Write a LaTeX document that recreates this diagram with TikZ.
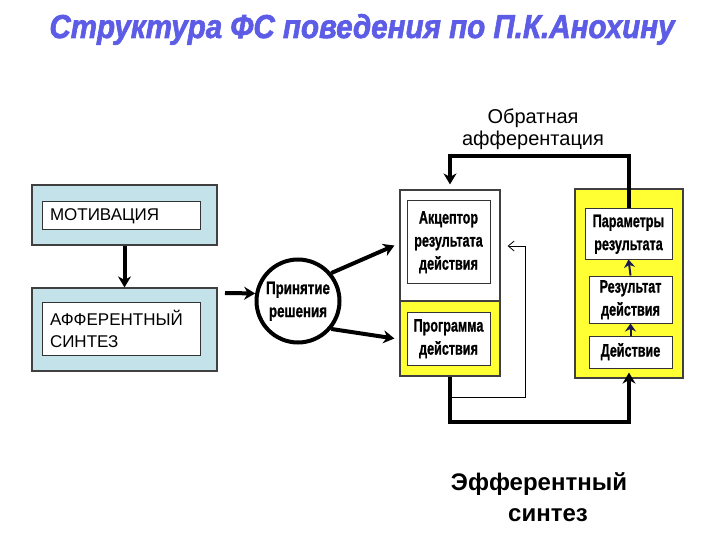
\documentclass[tikz,border=0pt]{standalone}
\usepackage{fontspec}
\setmainfont{Liberation Sans}
\newfontfamily\heavyfont[FakeBold=1.2]{Liberation Sans Bold}
\newfontfamily\titlefont[FakeBold=2]{Liberation Sans Bold Italic}
\usepackage{graphicx}
\usetikzlibrary{arrows.meta}
\definecolor{titleblue}{HTML}{5C5CE6}
\definecolor{paleblue}{HTML}{C4E2EA}
\definecolor{panelyellow}{HTML}{FFFF33}
\definecolor{tipnavy}{HTML}{1A1A50}
\newcommand\narrowtext[1]{\scalebox{0.7}[1]{\begin{tabular}{@{}c@{}}#1\end{tabular}}}
\newcommand\widertext[1]{\scalebox{0.74}[1]{\begin{tabular}{@{}c@{}}#1\end{tabular}}}
\begin{document}
\begin{tikzpicture}[x=1pt,y=-1pt]
\tikzstyle{every node}+=[inner sep=0pt]
\tikzstyle{panel}=[draw=black!75, line width=1.2pt, rectangle]
\tikzstyle{card}=[draw=black!80, line width=1pt, fill=white, rectangle]
\tikzstyle{plain}=[font=\fontsize{17}{22}\selectfont, align=left]
\tikzstyle{heavy}=[font=\fontsize{18}{23}\selectfont\heavyfont, align=center]
\tikzstyle{fat}=[line width=4pt, -{Stealth[length=11pt,width=13pt]}]
\tikzstyle{slim}=[line width=0.8pt, -{Straight Barb[length=6pt,width=10pt]}]
\tikzstyle{tiny}=[line width=2pt, draw=tipnavy, -{Stealth[length=8pt,width=11pt]}]
\useasboundingbox (0,0) rectangle (720,540);
\fill[white] (0,0) rectangle (720,540);
\node[anchor=base, text=titleblue] (title) at (362,38) {\resizebox{625pt}{24pt}{\titlefont Структура ФС поведения по П.К.Анохину}};
\node[panel, fill=paleblue, minimum width=185pt, minimum height=60pt] (motivpanel) at (124.5,215) {};
\node[card, plain, text width=142pt, minimum height=28pt, inner xsep=8pt] (motiv) at (121,216) {МОТИВАЦИЯ};
\node[panel, fill=paleblue, minimum width=185pt, minimum height=83pt] (afferpanel) at (124.5,329.5) {};
\node[card, plain, text width=142pt, minimum height=53pt, inner xsep=8pt] (affer) at (121,328.5) {АФФЕРЕНТНЫЙ\\СИНТЕЗ};
\node[circle, draw, line width=4pt, minimum size=83pt, heavy] (decision) at (298,301) {\widertext{Принятие\\решения}};
\node[panel, fill=white, minimum width=100pt, minimum height=111pt] (accpanel) at (450,245.5) {};
\node[panel, fill=panelyellow, minimum width=100pt, minimum height=75pt] (progpanel) at (450,338.5) {};
\node[card, heavy, minimum width=83pt, minimum height=82pt] (acc) at (448.5,242) {\narrowtext{Акцептор\\результата\\действия}};
\node[card, heavy, minimum width=83pt, minimum height=53pt] (prog) at (448.5,338.5) {\narrowtext{Программа\\действия}};
\node[panel, fill=panelyellow, minimum width=108pt, minimum height=189pt] (resultpanel) at (629,283.5) {};
\node[card, heavy, minimum width=87pt, minimum height=50pt] (params) at (628.5,234) {\narrowtext{Параметры\\результата}};
\node[card, heavy, minimum width=83pt, minimum height=47pt] (result) at (630.5,299.5) {\narrowtext{Результат\\действия}};
\node[card, heavy, minimum width=83pt, minimum height=32pt] (action) at (630.5,352) {\narrowtext{Действие}};
\node[font=\fontsize{20}{22}\selectfont, align=center] (feedback) at (533,129) {Обратная\\афферентация};
\node[font=\fontsize{24}{31}\selectfont\bfseries, align=center] (efferent) at (539,497) {Эфферентный\\\hspace*{18pt}синтез};
\coordinate (afferout) at (225,293);
\coordinate (tapin) at (450,397);
\coordinate (tapcorner) at (525,246);
\draw[fat] (motivpanel) -- (afferpanel);
\draw[fat] (afferout) -- (decision.170);
\draw[fat] (decision.40) -- ([xshift=-5pt]accpanel.west);
\draw[fat] (decision.-40) -- ([xshift=-5pt]progpanel.west);
\draw[fat] (params.north) -- ++(0,-52) -| ([yshift=5pt]accpanel.north);
\draw[fat] (progpanel.south) -- ++(0,45) -| ([yshift=6pt]resultpanel.south);
\draw[slim] (tapin) -| (tapcorner) -- ([xshift=7pt]accpanel.east |- tapcorner);
\draw[tiny] (result.north) -- (params.south);
\draw[tiny] (action.north) -- (result.south);
\end{tikzpicture}
\end{document}
